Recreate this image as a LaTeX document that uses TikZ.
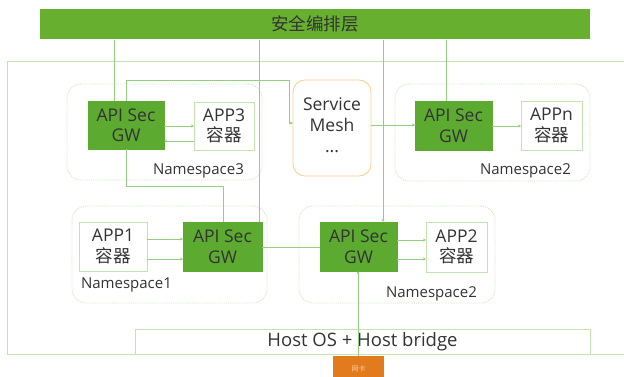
\documentclass[tikz,border=0pt]{standalone}
\usepackage{fontspec}
\setmainfont{Open Sans}
\newfontfamily\cjk{Noto Sans CJK SC}
\usetikzlibrary{arrows.meta,calc}
\definecolor{barGreen}{HTML}{66AF2F}
\definecolor{gwGreen}{HTML}{5CAA30}
\definecolor{lineGreen}{HTML}{93CF7F}
\definecolor{paleGreen}{HTML}{C3E3B2}
\definecolor{nsGreen}{HTML}{CDE7C0}
\definecolor{meshOrange}{HTML}{F6D394}
\definecolor{nicOrange}{HTML}{E27A1E}
\definecolor{txt}{HTML}{333333}
\tikzset{
  every node/.style={inner sep=0pt, outer sep=0pt, text=txt},
  nsbox/.style={draw=nsGreen, densely dotted, line width=0.9pt, rounded corners=14pt, anchor=north west},
  gwbox/.style={fill=gwGreen, draw=gwGreen, anchor=north west, align=center, font=\fontsize{17.5}{20.5}\selectfont},
  appbox/.style={fill=white, draw=paleGreen, line width=0.8pt, anchor=north west, align=center, font=\fontsize{17.5}{20.5}\selectfont},
  nslabel/.style={font=\fontsize{15}{17}\selectfont, anchor=base west},
  link/.style={draw=lineGreen, line width=0.8pt},
  arr/.style={link, -{Stealth[length=3pt,width=3pt]}},
}
\begin{document}
\begin{tikzpicture}[x=1pt,y=-1pt]
\useasboundingbox (0,0) rectangle (624,377);
\clip (0,0) rectangle (624,377);

% host frame
\draw[draw=paleGreen, line width=0.9pt] (7,61) rectangle (640,354);

% orchestration bar
\node[fill=barGreen, minimum width=550, minimum height=30, anchor=north west,
      font=\cjk\fontsize{17.5}{19}\selectfont] (bar) at (40,9) {安全编排层};

% namespace frames
\node[nsbox, minimum width=195, minimum height=96] (ns3) at (67,84) {};
\node[nsbox, minimum width=195, minimum height=97] (ns2t) at (395,84) {};
\node[nsbox, minimum width=195, minimum height=97] (ns1) at (72,206) {};
\node[nsbox, minimum width=196, minimum height=97] (ns2b) at (299,206) {};

% service mesh
\node[draw=meshOrange, line width=0.9pt, rounded corners=12pt, fill=white, anchor=north west,
      minimum width=78, minimum height=96] (sm) at (293,80) {};
\node[align=center, font=\fontsize{17.5}{21}\selectfont] (smtxt) at ($(sm.center)+(0,-3)$) {Service\\Mesh\\...};

% gateways and application containers
\node[gwbox, minimum width=76, minimum height=48] (gw3) at (88,101) {API Sec\\GW};
\node[appbox, minimum width=60, minimum height=48] (app3) at (194,102) {APP3\\{\cjk 容器}};
\node[gwbox, minimum width=77, minimum height=49] (gwn) at (415,101) {API Sec\\GW};
\node[appbox, minimum width=61, minimum height=49] (appn) at (521,101) {APPn\\{\cjk 容器}};
\node[appbox, minimum width=68, minimum height=49] (app1) at (79,222) {APP1\\{\cjk 容器}};
\node[gwbox, minimum width=79, minimum height=49] (gw1) at (183,222) {API Sec\\GW};
\node[gwbox, minimum width=77, minimum height=49] (gw2) at (320,222) {API Sec\\GW};
\node[appbox, minimum width=61, minimum height=50] (app2) at (426,222) {APP2\\{\cjk 容器}};

% namespace labels
\node[nslabel] (l3) at (153,175) {Namespace3};
\node[nslabel] (l2t) at (480,175) {Namespace2};
\node[nslabel] (l1) at (81,288) {Namespace1};
\node[nslabel] (l2b) at (386,297) {Namespace2};

% host OS and NIC
\node[draw=paleGreen, line width=0.9pt, fill=white, anchor=north west, minimum width=455, minimum height=25,
      font=\fontsize{18.5}{21}\selectfont] (host) at (135,329) {Host OS + Host bridge};
\node[fill=nicOrange, anchor=north west, minimum width=51, minimum height=25,
      font=\cjk\fontsize{7}{8}\selectfont, text=orange!35] (nic) at (333,356) {网卡};

% bar drops
\coordinate (d3) at (114,40);
\coordinate (d1) at (259,40);
\coordinate (d2) at (383,40);
\coordinate (dn) at (446,40);
\draw[link] (d3) -- (d3 |- gw3.north);
\draw[link] (d1) -- (d1 |- gw1.north);
\draw[arr] (d2) -- (d2 |- gw2.north);
\draw[link] (dn) -- (dn |- gwn.north);

% inner links
\coordinate (k1) at (289,80);
\coordinate (k2) at (289,123);
\draw[arr] (gw3.north) |- (k1) -- (k2) -- (k2 -| sm.west);
\coordinate (k3) at (223,186);
\draw[link] (gw3.south) |- (k3) -- (k3 |- gw1.north);
\draw[arr] (sm.east |- 0,125) -- (gwn.west |- 0,125);
\draw[arr] (gwn.east |- 0,126) -- (appn.west |- 0,126);
\draw[arr] (gw3.east |- 0,126) -- (app3.west |- 0,126);
\draw[arr] (app3.west |- 0,141) -- (gw3.east |- 0,141);
\draw[arr] (app1.east |- 0,239) -- (gw1.west |- 0,239);
\draw[arr] (app1.east |- 0,259) -- (gw1.west |- 0,259);
\draw[link] (gw1.east |- 0,247) -- (gw2.west |- 0,247);
\draw[arr] (gw2.east |- 0,240) -- (app2.west |- 0,240);
\draw[arr] (gw2.east |- 0,259) -- (app2.west |- 0,259);
\draw[arr] (nic.north -| 358,0) -- (gw2.south -| 358,0);
\end{tikzpicture}
\end{document}
